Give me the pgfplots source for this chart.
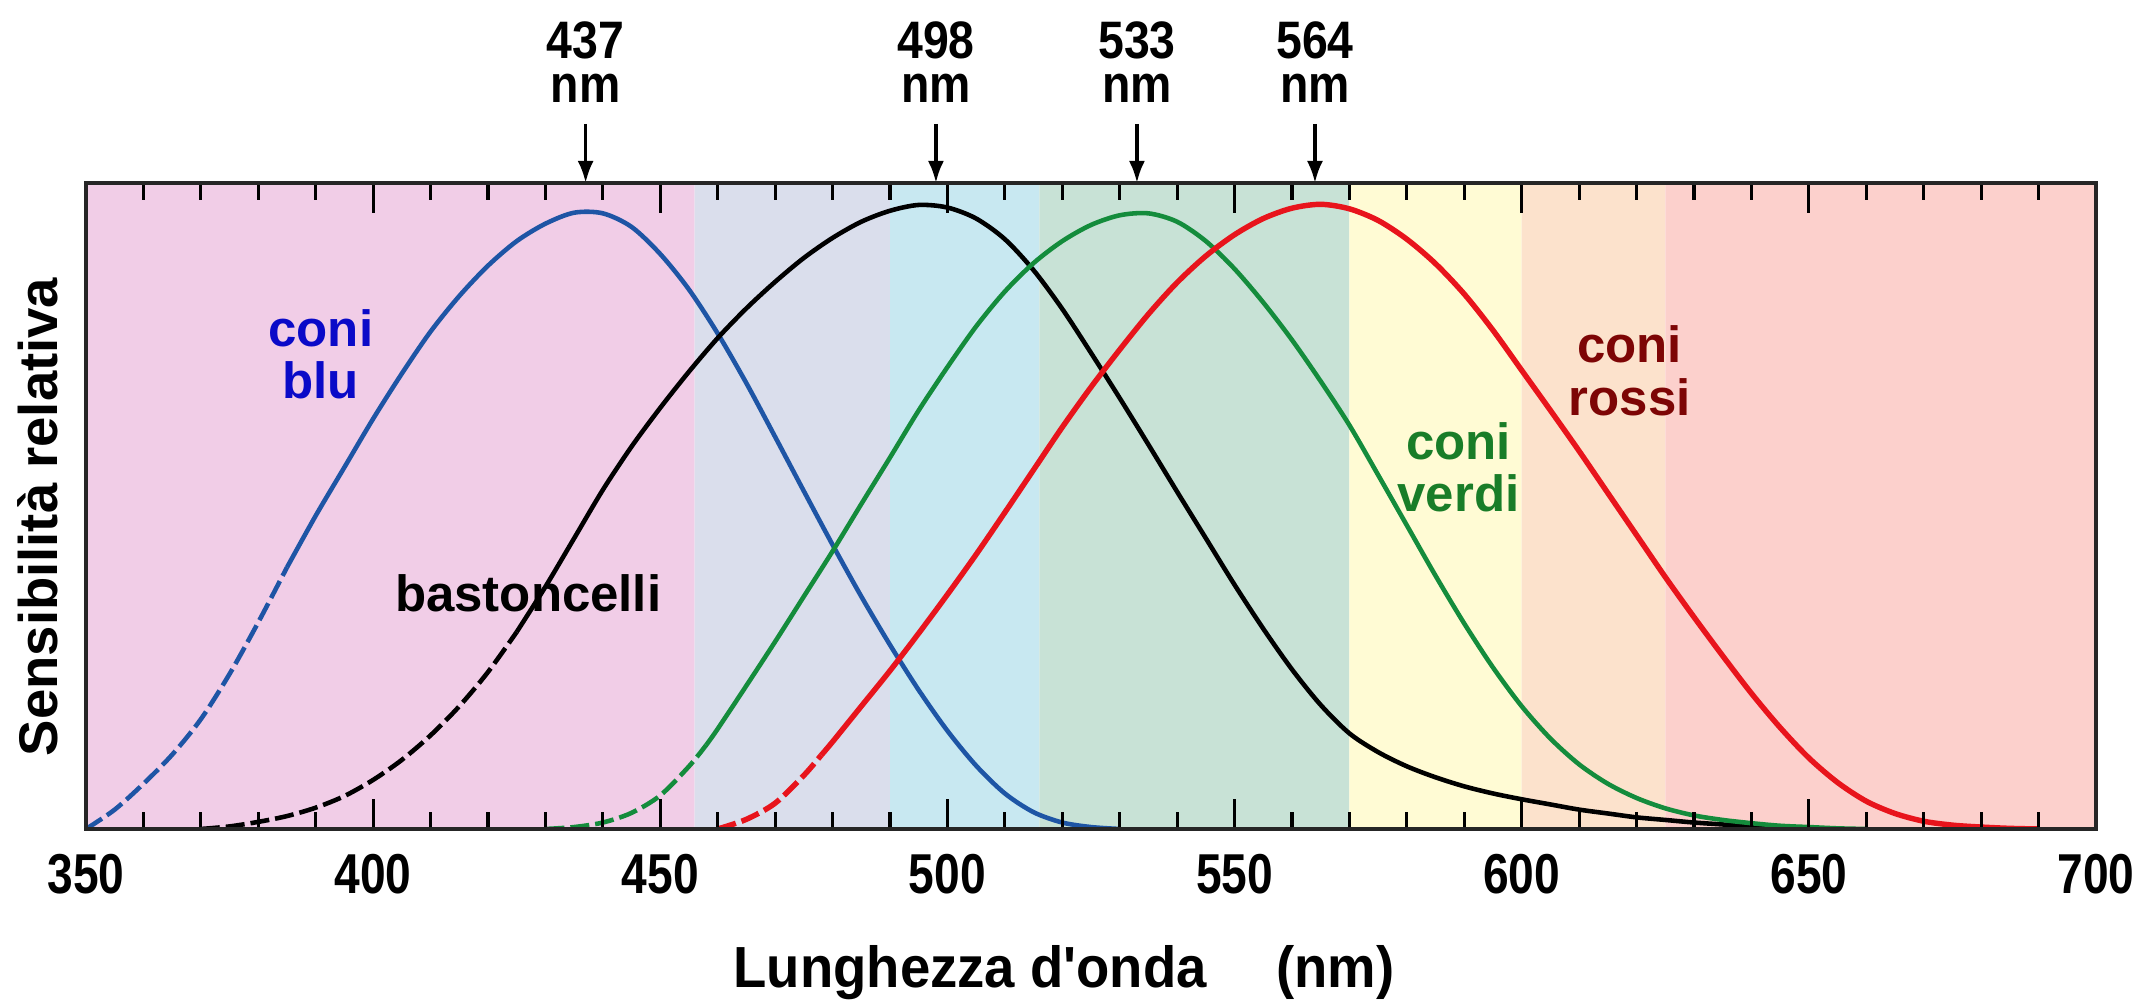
\documentclass[border=0pt]{standalone}
\usepackage{pgfplots}
\pgfplotsset{compat=1.18}
\usepackage{fontspec}
\setmainfont{Liberation Sans}[Ligatures=TeXOff]
\newfontfamily\narrowA{Liberation Sans}[FakeStretch=0.82]
\newfontfamily\narrowB{Liberation Sans}[FakeStretch=0.88]
\newfontfamily\narrowC{Liberation Sans}[FakeStretch=0.94, Ligatures=TeXOff]
\usetikzlibrary{arrows.meta}

\definecolor{bgpink}{RGB}{241,205,231}
\definecolor{bglav}{RGB}{218,222,236}
\definecolor{bgcyan}{RGB}{200,232,241}
\definecolor{bggreen}{RGB}{200,226,214}
\definecolor{bgyellow}{RGB}{255,251,212}
\definecolor{bgpeach}{RGB}{252,226,204}
\definecolor{bgsalmon}{RGB}{252,208,204}
\definecolor{cblue}{RGB}{30,85,165}
\definecolor{cgreen}{RGB}{20,140,60}
\definecolor{cred}{RGB}{232,20,28}
\definecolor{tblue}{RGB}{10,10,200}
\definecolor{tgreen}{RGB}{25,125,40}
\definecolor{tred}{RGB}{125,5,5}

\newcommand{\peak}[1]{%
  \node[anchor=south, inner sep=0pt, align=center, font=\narrowB\bfseries\fontsize{15}{12.5}\selectfont, yshift=8.0mm] at (axis cs:#1,1) {#1\\nm};
  \draw[line width=1pt, -{Latex[length=2.2mm,width=1.6mm]}] ([yshift=5.9mm]axis cs:#1,1) -- (axis cs:#1,1);
}

\begin{document}
\begin{tikzpicture}
\useasboundingbox (0,0) rectangle (215.3mm,100.2mm);
\begin{axis}[
  at={(8.6mm,17.3mm)}, anchor=south west,
  scale only axis, width=201mm, height=64.6mm,
  xmin=350, xmax=700, ymin=0, ymax=1,
  clip mode=individual,
  axis on top,
  axis line style={line width=1.1pt, black!85},
  xtick={350,400,...,700},
  minor xtick={360,370,...,690},
  ytick=\empty,
  tick align=inside,
  xtick pos=both,
  xticklabel pos=left,
  major tick length=3mm,
  minor tick length=1.7mm,
  every tick/.style={black, line width=0.9pt},
  /pgf/number format/assume math mode=true,
  /pgf/number format/1000 sep={},
  xticklabel style={font=\narrowA\bfseries\fontsize{16}{18}\selectfont, yshift=-1.3mm},
  xlabel={Lunghezza d'onda\hspace{1.2em}(nm)},
  xlabel style={at={(axis description cs:0.4866,-0.223)}, anchor=center, font=\narrowC\bfseries\fontsize{16.5}{18}\selectfont},
  ylabel={Sensibilità relativa},
  ylabel style={at={(axis description cs:-0.0239,0.483)}, anchor=center, font=\bfseries\fontsize{15.5}{18}\selectfont},
]
% background bands
\addplot[fill=bgpink, draw=none] coordinates {(350,0) (350,1) (456,1) (456,0)} \closedcycle;
\addplot[fill=bglav, draw=none] coordinates {(456,0) (456,1) (490,1) (490,0)} \closedcycle;
\addplot[fill=bgcyan, draw=none] coordinates {(490,0) (490,1) (516,1) (516,0)} \closedcycle;
\addplot[fill=bggreen, draw=none] coordinates {(516,0) (516,1) (570,1) (570,0)} \closedcycle;
\addplot[fill=bgyellow, draw=none] coordinates {(570,0) (570,1) (600,1) (600,0)} \closedcycle;
\addplot[fill=bgpeach, draw=none] coordinates {(600,0) (600,1) (625,1) (625,0)} \closedcycle;
\addplot[fill=bgsalmon, draw=none] coordinates {(625,0) (625,1) (700,1) (700,0)} \closedcycle;

% blue cones
\addplot[cblue, line width=1.3pt, smooth, dash pattern=on 1.9mm off 0.6mm] coordinates {
(350,0.0) (355,0.03) (360,0.07) (365,0.115) (370,0.17) (375,0.24) (380,0.32) (385,0.405)};
\addplot[cblue, line width=1.3pt, smooth] coordinates {
(385,0.405) (390,0.485) (395,0.56) (400,0.635) (405,0.705) (410,0.77) (415,0.825)
(420,0.872) (425,0.91) (430,0.937) (435,0.954) (440,0.953) (445,0.932) (450,0.89)
(455,0.835) (460,0.767) (465,0.69) (470,0.607) (475,0.523) (480,0.44) (485,0.36) (490,0.285)
(495,0.215) (500,0.152) (505,0.098) (510,0.055) (515,0.026) (520,0.01) (525,0.003) (530,0.0)};

% rods
\addplot[black, line width=1.3pt, smooth, dash pattern=on 1.9mm off 0.6mm] coordinates {
(370,0.0) (375,0.004) (380,0.011) (385,0.02) (390,0.033) (395,0.051) (400,0.076) (405,0.107)
(410,0.145) (415,0.19) (420,0.243) (425,0.305)};
\addplot[black, line width=1.3pt, smooth] coordinates {
(425,0.305) (430,0.375) (435,0.45) (440,0.525) (445,0.592) (450,0.652) (455,0.708) (460,0.76)
(465,0.806) (470,0.847) (475,0.884) (480,0.915) (485,0.94) (490,0.957) (495,0.966) (500,0.962)
(505,0.945) (510,0.913) (515,0.865) (520,0.805) (525,0.737) (530,0.667) (535,0.595) (540,0.522)
(545,0.45) (550,0.378) (555,0.31) (560,0.247) (565,0.192) (570,0.148) (575,0.119) (580,0.097)
(585,0.08) (590,0.066) (595,0.055) (600,0.046) (605,0.038) (610,0.03) (615,0.024) (620,0.018)
(625,0.014) (630,0.01) (635,0.007) (640,0.004) (645,0.002) (650,0.0)};

% green cones
\addplot[cgreen, line width=1.3pt, smooth, dash pattern=on 1.9mm off 0.6mm] coordinates {
(430,0.0) (435,0.003) (440,0.01) (445,0.025) (450,0.052) (455,0.097) (458,0.13)};
\addplot[cgreen, line width=1.3pt, smooth] coordinates {
(458,0.13) (460,0.155) (465,0.222) (470,0.29) (475,0.36) (480,0.43) (485,0.503) (490,0.575)
(495,0.648) (500,0.715) (505,0.778) (510,0.832) (515,0.876) (520,0.91) (525,0.935) (530,0.95)
(535,0.953) (540,0.94) (545,0.91) (550,0.867) (555,0.815) (560,0.757) (565,0.693) (570,0.625)
(575,0.548) (580,0.47) (585,0.392) (590,0.318) (595,0.25) (600,0.19) (605,0.14) (610,0.1)
(615,0.07) (620,0.048) (625,0.032) (630,0.021) (635,0.014) (640,0.009) (645,0.005) (650,0.003)
(655,0.001) (660,0.0)};

% red cones
\addplot[cred, line width=1.55pt, smooth, dash pattern=on 1.9mm off 0.6mm] coordinates {
(460,0.0) (465,0.015) (470,0.04) (475,0.083) (478,0.114)};
\addplot[cred, line width=1.55pt, smooth] coordinates {
(478,0.114) (480,0.135) (485,0.19) (490,0.245) (495,0.303) (500,0.363) (505,0.425) (510,0.49)
(515,0.556) (520,0.622) (525,0.684) (530,0.742) (535,0.797) (540,0.846) (545,0.887) (550,0.92)
(555,0.945) (560,0.961) (565,0.967) (570,0.96) (575,0.942) (580,0.913) (585,0.875) (590,0.828)
(595,0.772) (600,0.71) (605,0.648) (610,0.585) (615,0.52) (620,0.455) (625,0.39) (630,0.328)
(635,0.268) (640,0.21) (645,0.157) (650,0.11) (655,0.072) (660,0.043) (665,0.024) (670,0.012)
(675,0.006) (680,0.003) (685,0.001) (690,0.0)};

% curve labels
\node[tblue, font=\bfseries\fontsize{14.5}{15}\selectfont, align=center] at (axis cs:390.9,0.735) {coni\\blu};
\node[black, font=\bfseries\fontsize{14.5}{15}\selectfont] at (axis cs:427,0.365) {bastoncelli};
\node[tgreen, font=\bfseries\fontsize{14.5}{15}\selectfont, align=center] at (axis cs:589,0.56) {coni\\verdi};
\node[tred, font=\bfseries\fontsize{14.5}{15}\selectfont, align=center] at (axis cs:618.8,0.709) {coni\\rossi};

% peak annotations
\peak{437}
\peak{498}
\peak{533}
\peak{564}
\end{axis}
\end{tikzpicture}
\end{document}
